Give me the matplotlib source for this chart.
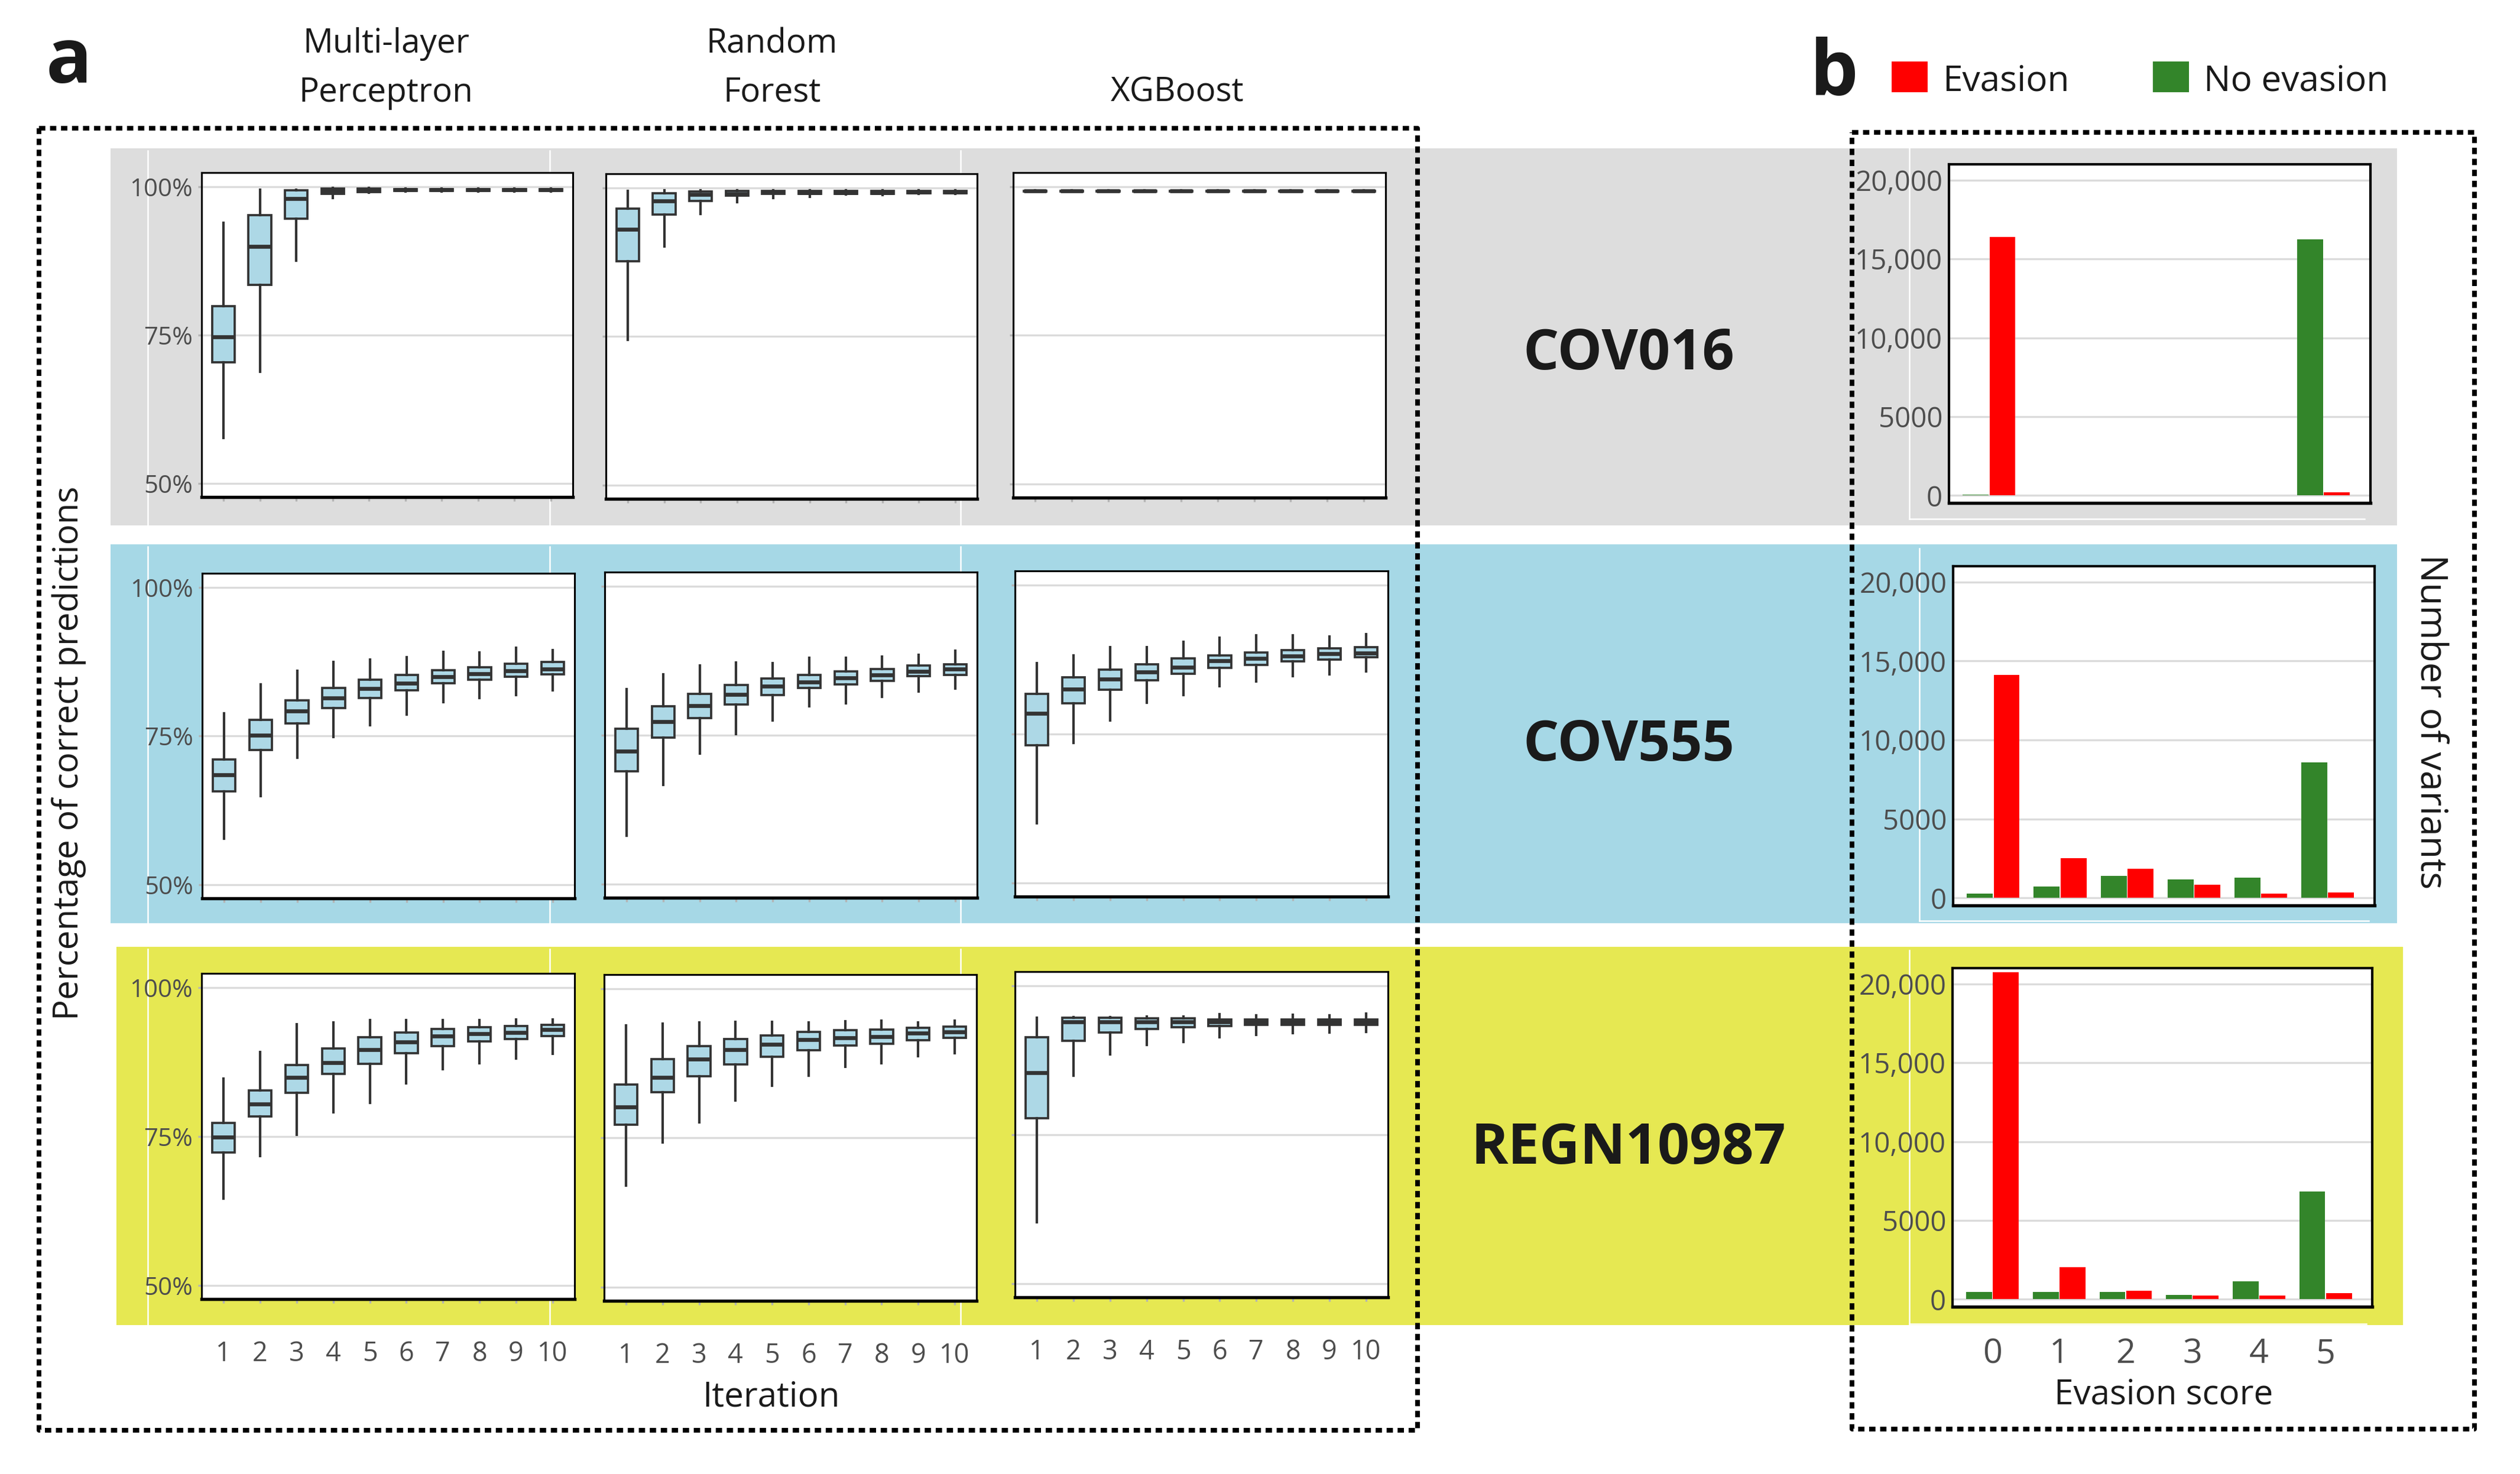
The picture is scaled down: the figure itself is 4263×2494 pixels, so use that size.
import matplotlib
matplotlib.use('Agg')
import matplotlib.pyplot as plt
from matplotlib.patches import Rectangle

W, H = 4263, 2494
DPI = 300
plt.rcParams['font.family'] = ['Open Sans', 'DejaVu Sans']

# ---------------- data ----------------
iterations = [1, 2, 3, 4, 5, 6, 7, 8, 9, 10]
model_names = ['Multi-layer\nPerceptron', 'Random\nForest', 'XGBoost']
antibodies = ['COV016', 'COV555', 'REGN10987']
evasion_scores = [0, 1, 2, 3, 4, 5]
y_ticks_pct = [50, 75, 100]
y_tick_labels_pct = ['50%', '75%', '100%']
y_ticks_count = [0, 5000, 10000, 15000, 20000]
y_tick_labels_count = ['0', '5000', '10,000', '15,000', '20,000']

# box statistics per panel: [whisker_low, q1, median, q3, whisker_high]
mlp_cov016 = [
    [57.7, 68.8, 87.5, 98.1, 99.0, 99.2, 99.2, 99.2, 99.2, 99.2],
    [70.4, 83.4, 94.6, 98.8, 99.1, 99.25, 99.3, 99.3, 99.3, 99.3],
    [74.7, 89.9, 98.0, 99.3, 99.4, 99.45, 99.45, 99.45, 99.45, 99.45],
    [79.9, 95.2, 99.4, 99.7, 99.7, 99.6, 99.6, 99.6, 99.6, 99.6],
    [93.9, 99.5, 99.5, 99.8, 99.8, 99.7, 99.7, 99.7, 99.7, 99.7],
]
rf_cov016 = [
    [74.4, 90.1, 95.6, 97.6, 98.3, 98.5, 98.9, 98.75, 99.0, 99.0],
    [87.6, 95.5, 97.8, 98.7, 99.0, 99.0, 99.0, 99.0, 99.1, 99.1],
    [93.0, 97.8, 98.9, 99.0, 99.3, 99.2, 99.2, 99.2, 99.3, 99.3],
    [96.5, 99.1, 99.4, 99.5, 99.5, 99.5, 99.5, 99.5, 99.5, 99.5],
    [99.5, 99.6, 99.6, 99.6, 99.6, 99.6, 99.6, 99.6, 99.6, 99.6],
]
xgb_cov016 = [
    [99.15, 99.15, 99.15, 99.15, 99.15, 99.15, 99.15, 99.15, 99.15, 99.15],
    [99.2, 99.2, 99.2, 99.2, 99.2, 99.2, 99.2, 99.2, 99.2, 99.2],
    [99.25, 99.25, 99.25, 99.25, 99.25, 99.25, 99.25, 99.25, 99.25, 99.25],
    [99.3, 99.3, 99.3, 99.3, 99.3, 99.3, 99.3, 99.3, 99.3, 99.3],
    [99.35, 99.35, 99.35, 99.35, 99.35, 99.35, 99.35, 99.35, 99.35, 99.35],
]
mlp_cov555 = [
    [57.7, 64.9, 71.3, 74.8, 76.8, 78.6, 80.7, 81.4, 81.9, 82.7],
    [65.7, 72.6, 77.1, 79.7, 81.4, 82.7, 83.9, 84.5, 85.0, 85.4],
    [68.5, 75.1, 79.2, 81.4, 83.0, 83.9, 85.0, 85.5, 86.0, 86.3],
    [71.1, 77.7, 81.0, 83.1, 84.5, 85.3, 86.1, 86.6, 87.1, 87.4],
    [78.8, 83.7, 86.0, 87.4, 87.8, 88.2, 89.1, 89.0, 89.8, 89.4],
]
rf_cov555 = [
    [58.1, 66.6, 71.9, 75.2, 77.5, 79.8, 80.3, 81.4, 82.3, 82.8],
    [68.9, 74.6, 77.9, 80.1, 81.7, 82.9, 83.5, 84.1, 84.9, 85.1],
    [72.3, 77.3, 79.9, 81.8, 83.2, 83.9, 84.6, 85.1, 85.7, 86.1],
    [76.1, 79.8, 81.9, 83.4, 84.5, 85.1, 85.7, 86.1, 86.7, 86.9],
    [82.7, 85.2, 86.7, 87.2, 87.1, 88.0, 88.0, 88.2, 88.5, 89.2],
]
xgb_cov555 = [
    [60.0, 73.5, 77.3, 80.2, 81.5, 83.0, 83.8, 84.7, 85.0, 85.5],
    [73.1, 80.1, 82.4, 84.0, 85.1, 86.1, 86.6, 87.2, 87.5, 87.9],
    [78.4, 82.5, 84.2, 85.4, 86.2, 87.3, 87.7, 88.1, 88.5, 88.6],
    [81.7, 84.5, 85.8, 86.7, 87.7, 88.2, 88.7, 89.1, 89.4, 89.6],
    [86.9, 88.2, 89.6, 89.6, 90.4, 91.1, 91.5, 91.5, 91.3, 91.7],
]
mlp_regn10987 = [
    [64.6, 71.7, 75.3, 79.0, 80.6, 83.9, 86.3, 87.3, 88.1, 88.9],
    [72.3, 78.3, 82.3, 85.5, 87.2, 89.0, 90.2, 90.9, 91.3, 91.8],
    [74.9, 80.4, 84.9, 87.4, 89.6, 90.8, 91.8, 92.2, 92.4, 92.9],
    [77.3, 82.7, 87.0, 89.8, 91.6, 92.4, 93.0, 93.3, 93.5, 93.7],
    [84.7, 89.2, 93.8, 94.1, 94.5, 94.5, 94.5, 94.5, 94.6, 94.6],
]
rf_regn10987 = [
    [67.0, 74.2, 77.6, 81.3, 83.7, 85.4, 86.9, 87.5, 88.7, 89.2],
    [77.2, 82.6, 85.3, 87.3, 88.6, 89.7, 90.5, 90.8, 91.4, 91.8],
    [80.2, 85.1, 88.2, 89.8, 90.7, 91.5, 91.8, 92.0, 92.5, 92.7],
    [83.9, 88.2, 90.4, 91.6, 92.2, 92.7, 93.0, 93.1, 93.4, 93.6],
    [93.8, 94.1, 94.3, 94.4, 94.4, 94.3, 94.5, 94.6, 94.3, 94.6],
]
xgb_regn10987 = [
    [60.3, 84.9, 88.5, 90.1, 90.5, 91.3, 91.7, 92.0, 92.1, 92.2],
    [77.8, 90.7, 92.1, 92.7, 93.0, 93.2, 93.4, 93.4, 93.4, 93.4],
    [85.4, 93.9, 93.9, 93.9, 93.9, 93.9, 93.9, 93.9, 93.9, 93.9],
    [91.3, 94.6, 94.6, 94.5, 94.5, 94.3, 94.3, 94.3, 94.3, 94.3],
    [94.6, 94.7, 94.7, 94.8, 94.8, 95.2, 95.0, 95.1, 95.0, 95.3],
]

# number of variants per evasion score
no_evasion_cov016 = [40, 0, 0, 0, 0, 16250]
evasion_cov016 = [16400, 0, 0, 0, 0, 210]
no_evasion_cov555 = [280, 730, 1400, 1180, 1280, 8600]
evasion_cov555 = [14130, 2510, 1850, 830, 280, 360]
no_evasion_regn10987 = [480, 480, 480, 280, 1150, 6830]
evasion_regn10987 = [20720, 2040, 540, 260, 260, 410]

box_data = [
    [mlp_cov016, rf_cov016, xgb_cov016],
    [mlp_cov555, rf_cov555, xgb_cov555],
    [mlp_regn10987, rf_regn10987, xgb_regn10987],
]
bar_green = [no_evasion_cov016, no_evasion_cov555, no_evasion_regn10987]
bar_red = [evasion_cov016, evasion_cov555, evasion_regn10987]

# ---------------- style / layout ----------------
BAND_COLORS = ['#dddddd', '#a6d8e6', '#e6e852']
BOX_FILL = '#add8e6'
DARK = '#333333'
TXT = '#1a1a1a'
TICK_TXT = '#4d4d4d'
GRID = '#dbdbdb'
RED = '#ff0000'
GREEN = '#33852a'

bands = [(187, 251, 4055, 889), (187, 921, 4055, 1562), (197, 1602, 4065, 2242)]
box_rects = [
    [(341, 292, 969, 841), (1025, 294, 1653, 844), (1714, 292, 2344, 842)],
    [(342, 970, 972, 1520), (1023, 968, 1653, 1519), (1717, 966, 2348, 1517)],
    [(341, 1647, 972, 2198), (1022, 1649, 1652, 2201), (1717, 1644, 2348, 2195)],
]
bar_rects = [(3297, 278, 4010, 851), (3304, 958, 4017, 1532), (3303, 1638, 4013, 2211)]
label_y = [600, 1262, 1944]


def frac(r):
    x0, y0, x1, y1 = r
    return [x0 / W, 1 - y1 / H, (x1 - x0) / W, (y1 - y0) / H]


fig = plt.figure(figsize=(W / DPI, H / DPI), dpi=DPI)
fig.patch.set_facecolor('white')

bg = fig.add_axes([0, 0, 1, 1], zorder=0)
bg.set_xlim(0, W)
bg.set_ylim(H, 0)
bg.axis('off')

for (x0, y0, x1, y1), c in zip(bands, BAND_COLORS):
    bg.add_patch(Rectangle((x0, y0), x1 - x0, y1 - y0, facecolor=c, edgecolor='none', zorder=0))
    for xv in (250, 930, 1625):
        bg.plot([xv, xv], [y0 + 4, y1], color='white', lw=0.6, zorder=1)

# thin white compositing lines around bar panels
for (x0, y0, x1, y1), (bx, by) in zip(bar_rects, [(3230, 878), (3247, 1558), (3230, 2240)]):
    bg.plot([bx, bx], [y0 - 30, by], color='white', lw=0.6, zorder=1)
    bg.plot([bx, x1 - 10], [by, by], color='white', lw=0.6, zorder=1)

# dotted frames
dot_kw = dict(color='black', lw=1.9, linestyle=(0, (1.35, 1.0)), dash_capstyle='butt',
              solid_capstyle='butt', zorder=3, clip_on=False)
for (x0, y0, x1, y1) in [(66, 217, 2398, 2420), (3133, 224, 4186, 2418)]:
    bg.plot([x0, x1, x1, x0, x0], [y0, y0, y1, y1, y0], **dot_kw)

# panel letters
bg.text(78, 140, 'a', fontsize=31, fontweight='bold', color=TXT, ha='left', va='baseline')
bg.text(3062, 160, 'b', fontsize=31, fontweight='bold', color=TXT, ha='left', va='baseline')

# column headers
header_x = [653, 1306, 1992]
for name, hx in zip(model_names, header_x):
    lines = name.split('\n')
    if len(lines) == 2:
        bg.text(hx, 89, lines[0], fontsize=13.6, color=TXT, ha='center', va='baseline')
        bg.text(hx, 172, lines[1], fontsize=13.6, color=TXT, ha='center', va='baseline')
    else:
        bg.text(hx, 172, lines[0], fontsize=13.6, color=TXT, ha='center', va='baseline')

# legend
for (sx, lab, col) in [(3200, 'Evasion', RED), (3642, 'No evasion', GREEN)]:
    bg.add_patch(Rectangle((sx, 104), 61, 52, facecolor=col, edgecolor='none', zorder=2))
    bg.text(sx + 86, 154, lab, fontsize=14.5, color=TXT, ha='left', va='baseline')

# row labels
for ab, ly in zip(antibodies, label_y):
    bg.text(2755, ly, ab, fontsize=22.8, fontweight='bold', color=TXT, ha='center', va='center')

# axis titles
bg.text(117, 1274, 'Percentage of correct predictions', fontsize=14, color=TXT,
        rotation=90, ha='center', va='center')
bg.text(1305, 2380, 'Iteration', fontsize=14, color=TXT, ha='center', va='baseline')
bg.text(3660, 2376, 'Evasion score', fontsize=14, color=TXT, ha='center', va='baseline')
bg.text(4112, 1221, 'Number of variants', fontsize=15, color=TXT,
        rotation=-90, ha='center', va='center')

# ---------------- box plot panels ----------------
for r in range(3):
    for c in range(3):
        ax = fig.add_axes(frac(box_rects[r][c]), zorder=2)
        d = box_data[r][c]
        stats = []
        for i in range(len(iterations)):
            stats.append(dict(whislo=d[0][i], q1=d[1][i], med=d[2][i], q3=d[3][i],
                              whishi=d[4][i], fliers=[]))
        ax.bxp(stats, positions=iterations, widths=0.62, patch_artist=True,
               showcaps=False, showfliers=False, manage_ticks=False,
               boxprops=dict(facecolor=BOX_FILL, edgecolor=DARK, linewidth=0.9),
               medianprops=dict(color=DARK, linewidth=1.6, solid_capstyle='butt'),
               whiskerprops=dict(color=DARK, linewidth=1.0))
        ax.set_xlim(0.4, 10.6)
        ax.set_ylim(47.7, 102.35)
        ax.set_facecolor('white')
        ax.set_axisbelow(True)
        ax.yaxis.grid(True, color=GRID, lw=0.8)
        ax.set_yticks(y_ticks_pct)
        if c == 0:
            ax.set_yticklabels(y_tick_labels_pct)
        else:
            ax.set_yticklabels([])
        ax.set_xticks(iterations)
        if r == 2:
            ax.set_xticklabels([str(i) for i in iterations])
        else:
            ax.set_xticklabels([])
        ax.tick_params(axis='y', length=1.5, width=0.8, color='#b3b3b3', pad=2,
                       labelsize=10.1, labelcolor=TICK_TXT)
        ax.tick_params(axis='x', length=1.7, width=0.8, color='#b3b3b3', pad=15.0,
                       labelsize=10.8, labelcolor=TICK_TXT)
        for s in ('left', 'right', 'top'):
            ax.spines[s].set_linewidth(0.75)
            ax.spines[s].set_color('black')
        ax.spines['bottom'].set_linewidth(1.3)
        ax.spines['bottom'].set_color('black')

# ---------------- bar panels ----------------
bw = 0.4
for r in range(3):
    ax = fig.add_axes(frac(bar_rects[r]), zorder=2)
    xs = evasion_scores
    ax.bar([x - bw / 2 for x in xs], bar_green[r], width=bw * 0.97, color=GREEN, zorder=2)
    ax.bar([x + bw / 2 for x in xs], bar_red[r], width=bw * 0.97, color=RED, zorder=2)
    ax.set_xlim(-0.6, 5.7)
    ax.set_ylim(-470, 21000)
    ax.set_facecolor('white')
    ax.set_axisbelow(True)
    ax.yaxis.grid(True, color=GRID, lw=0.8)
    ax.set_yticks(y_ticks_count)
    ax.set_yticklabels(y_tick_labels_count)
    ax.set_xticks(xs)
    if r == 2:
        ax.set_xticklabels([str(x) for x in xs])
    else:
        ax.set_xticklabels([])
    ax.tick_params(axis='y', length=0, pad=2.6, labelsize=11.4, labelcolor=TICK_TXT)
    ax.tick_params(axis='x', length=0, pad=12.5, labelsize=13.8, labelcolor=TICK_TXT)
    for s in ('left', 'right', 'top'):
        ax.spines[s].set_linewidth(1.0)
        ax.spines[s].set_color('black')
    ax.spines['bottom'].set_linewidth(1.3)
    ax.spines['bottom'].set_color('black')

fig.savefig('out.png', dpi=DPI)
